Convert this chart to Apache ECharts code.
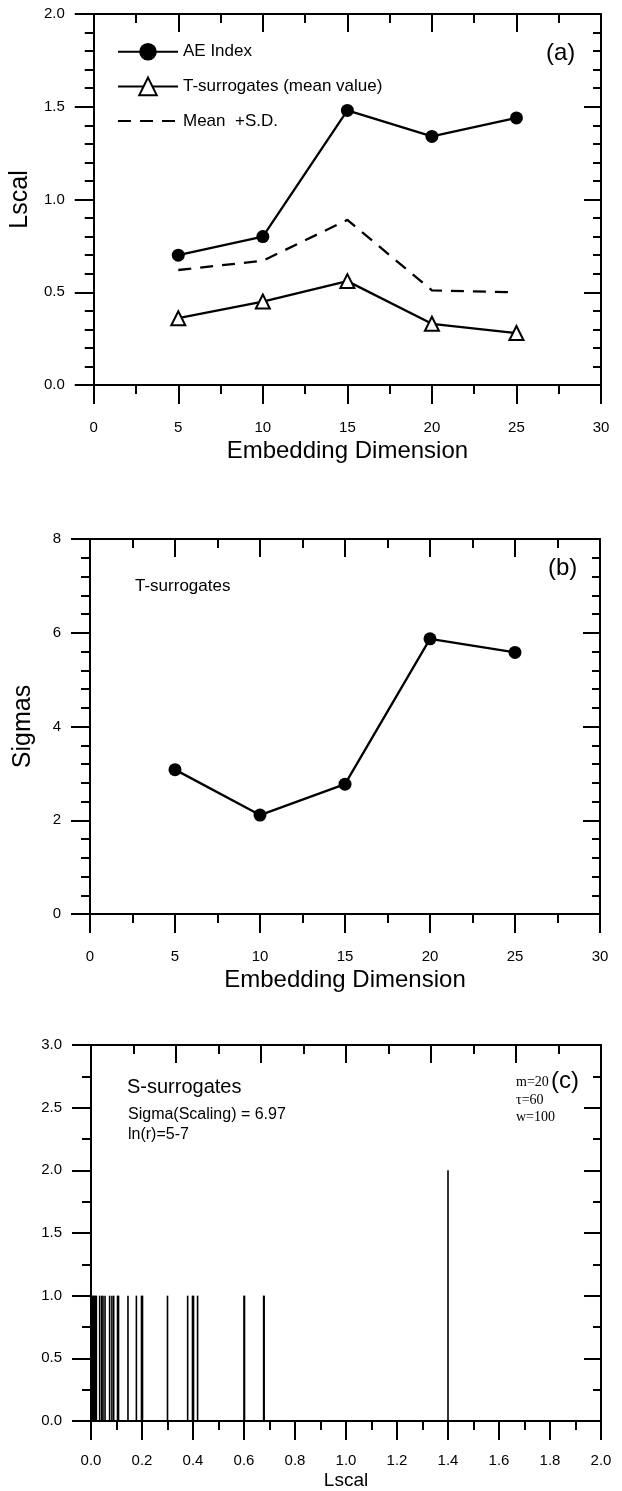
<!DOCTYPE html>
<html>
<head>
<meta charset="utf-8">
<script src="https://cdn.jsdelivr.net/npm/echarts@6/dist/echarts.min.js"></script>
<style>
  html, body { margin: 0; padding: 0; background: #fff; }
  #chart { width: 622px; height: 1491px; }
</style>
</head>
<body>
<div id="chart"></div>
<script>
// Panel (a): Lscal against embedding dimension
const dims = [5, 10, 15, 20, 25];
const aeIndex = [0.70, 0.80, 1.48, 1.34, 1.44];
const tSurrMean = [0.36, 0.45, 0.56, 0.33, 0.28];
const meanPlusSD = [0.62, 0.67, 0.89, 0.51, 0.50];

// Panel (b): significance (sigmas) of the T-surrogate test
const sigmas = [3.08, 2.11, 2.77, 5.87, 5.58];

// Panel (c): distribution of Lscal over the S-surrogates
const sLscal = [0.001, 0.005, 0.009, 0.013, 0.017, 0.021, 0.034, 0.042, 0.047, 0.055,
                0.073, 0.082, 0.089, 0.104, 0.108, 0.145, 0.178, 0.198, 0.202, 0.300,
                0.379, 0.398, 0.402, 0.418, 0.600, 0.602, 0.677, 0.679, 1.400];
const sCount = [1, 1, 1, 1, 1, 1, 1, 1, 1, 1,
                1, 1, 1, 1, 1, 1, 1, 1, 1, 1,
                1, 1, 1, 1, 1, 1, 1, 1, 2];

// Panel annotations
const seriesNames = ['AE Index', 'T-surrogates (mean value)', 'Mean  +S.D.'];
const panelTags = ['(a)', '(b)', '(c)'];
const xTitle = 'Embedding Dimension';

const FONT = '"Liberation Sans", Arial, Helvetica, sans-serif';
const SERIF = '"Liberation Serif", "Times New Roman", serif';
const ink = '#000';
const tickStyle = { color: ink, width: 2 };
const pairs = (xs, ys) => xs.map((x, i) => [x, ys[i]]);
const fix1 = v => v.toFixed(1);
const plain = v => String(v);

function xBottom(g, min, max, interval, minorSplit, fmt, margin, name, nameGap, nameSize) {
  return {
    type: 'value', gridIndex: g, position: 'bottom', min, max, interval,
    axisLine: { onZero: false, lineStyle: { color: ink, width: 2 } },
    axisTick: { show: true, inside: false, length: 19, lineStyle: tickStyle },
    minorTick: { show: true, splitNumber: minorSplit, length: 9, lineStyle: tickStyle },
    splitLine: { show: false }, minorSplitLine: { show: false },
    axisLabel: { margin, fontSize: 15, color: ink, fontFamily: FONT, formatter: fmt },
    name, nameLocation: 'middle', nameGap,
    nameTextStyle: { fontSize: nameSize, color: ink, fontFamily: FONT }
  };
}
function xTop(g, min, max, interval, minorSplit) {
  return {
    type: 'value', gridIndex: g, position: 'top', min, max, interval,
    axisLine: { onZero: false, lineStyle: { color: ink, width: 2 } },
    axisTick: { show: true, inside: true, length: 18, lineStyle: tickStyle },
    minorTick: { show: true, splitNumber: minorSplit, length: 9, lineStyle: tickStyle },
    splitLine: { show: false }, axisLabel: { show: false }
  };
}
function yLeft(g, min, max, interval, minorSplit, fmt, name) {
  return {
    type: 'value', gridIndex: g, position: 'left', min, max, interval,
    axisLine: { onZero: false, lineStyle: { color: ink, width: 2 } },
    axisTick: { show: true, inside: false, length: 19, lineStyle: tickStyle },
    minorTick: { show: true, splitNumber: minorSplit, length: 9, lineStyle: tickStyle },
    splitLine: { show: false }, minorSplitLine: { show: false },
    axisLabel: { margin: 29, fontSize: 15, color: ink, fontFamily: FONT, formatter: fmt },
    name, nameLocation: 'middle', nameGap: 54,
    nameTextStyle: { fontSize: 25, color: ink, fontFamily: FONT }
  };
}
function yRight(g, min, max, interval, minorSplit) {
  return {
    type: 'value', gridIndex: g, position: 'right', min, max, interval,
    axisLine: { onZero: false, lineStyle: { color: ink, width: 2 } },
    axisTick: { show: true, inside: true, length: 17, lineStyle: tickStyle },
    minorTick: { show: true, splitNumber: minorSplit, length: 8, lineStyle: tickStyle },
    splitLine: { show: false }, axisLabel: { show: false }
  };
}
function label(text, x, y, size, family) {
  return {
    type: 'text', x, y, silent: true,
    style: { text, fill: ink, font: size + 'px ' + (family || FONT), align: 'left', verticalAlign: 'middle' }
  };
}

const option = {
  backgroundColor: '#fff',
  animation: false,
  grid: [
    { left: 91, top: 14, width: 510, height: 371 },
    { left: 90, top: 539, width: 510, height: 375 },
    { left: 91, top: 1045, width: 510, height: 377 }
  ],
  xAxis: [
    xBottom(0, 0, 30, 5, 2, plain, 35, xTitle, 54, 24),
    xTop(0, 0, 30, 5, 2),
    xBottom(1, 0, 30, 5, 2, plain, 35, xTitle, 54, 24),
    xTop(1, 0, 30, 5, 2),
    xBottom(2, 0, 2, 0.2, 2, fix1, 32, 'Lscal', 50, 19),
    xTop(2, 0, 30, 5, 2)
  ],
  yAxis: [
    yLeft(0, 0, 2, 0.5, 5, fix1, 'Lscal'),
    yRight(0, 0, 2, 0.5, 5),
    yLeft(1, 0, 8, 2, 5, plain, 'Sigmas'),
    yRight(1, 0, 8, 2, 5),
    yLeft(2, 0, 3, 0.5, 2, fix1, ''),
    yRight(2, 0, 3, 0.5, 2)
  ],
  legend: {
    orient: 'vertical', left: 112, top: 38,
    itemWidth: 60, itemHeight: 22, itemGap: 16,
    selectedMode: false,
    textStyle: { fontSize: 17, color: ink, fontFamily: FONT },
    data: [
      { name: seriesNames[0] },
      { name: seriesNames[1], itemStyle: { color: '#fff', borderColor: ink, borderWidth: 2 } },
      { name: seriesNames[2], itemStyle: { color: 'transparent', borderWidth: 0, opacity: 0 } }
    ]
  },
  series: [
    {
      type: 'line', name: seriesNames[0], xAxisIndex: 0, yAxisIndex: 0,
      data: pairs(dims, aeIndex), symbol: 'circle', symbolSize: 13,
      lineStyle: { color: ink, width: 2.3 }, itemStyle: { color: ink }, z: 4
    },
    {
      type: 'line', name: seriesNames[1], xAxisIndex: 0, yAxisIndex: 0,
      data: pairs(dims, tSurrMean), symbol: 'triangle', symbolSize: 14,
      lineStyle: { color: ink, width: 2.3 },
      itemStyle: { color: '#fff', borderColor: ink, borderWidth: 2 }, z: 4
    },
    {
      type: 'line', name: seriesNames[2], xAxisIndex: 0, yAxisIndex: 0,
      data: pairs(dims, meanPlusSD), symbol: 'none',
      lineStyle: { color: ink, width: 2.3, type: [13, 9] }, itemStyle: { color: ink }, z: 3
    },
    {
      type: 'line', name: 'Sigmas', xAxisIndex: 2, yAxisIndex: 2,
      data: pairs(dims, sigmas), symbol: 'circle', symbolSize: 13,
      lineStyle: { color: ink, width: 2.3 }, itemStyle: { color: ink }
    },
    {
      type: 'bar', name: 'S-surrogates', xAxisIndex: 4, yAxisIndex: 4,
      data: pairs(sLscal, sCount), barWidth: 1.6,
      itemStyle: { color: ink }
    }
  ],
  graphic: [
    label(panelTags[0], 546, 53, 24),
    label(panelTags[1], 548, 568, 24),
    label('T-surrogates', 135, 586, 17),
    label('S-surrogates', 127, 1087, 20),
    label('Sigma(Scaling) = 6.97', 128, 1115, 16),
    label('ln(r)=5-7', 128, 1135, 16),
    label('m=20', 516, 1082, 14, SERIF),
    label('τ=60', 516, 1100, 14, SERIF),
    label('w=100', 516, 1117, 14, SERIF),
    label(panelTags[2], 551, 1081, 24)
  ]
};

const chart = echarts.init(document.getElementById('chart'), null, { renderer: 'canvas' });
chart.setOption(option);
</script>
</body>
</html>
